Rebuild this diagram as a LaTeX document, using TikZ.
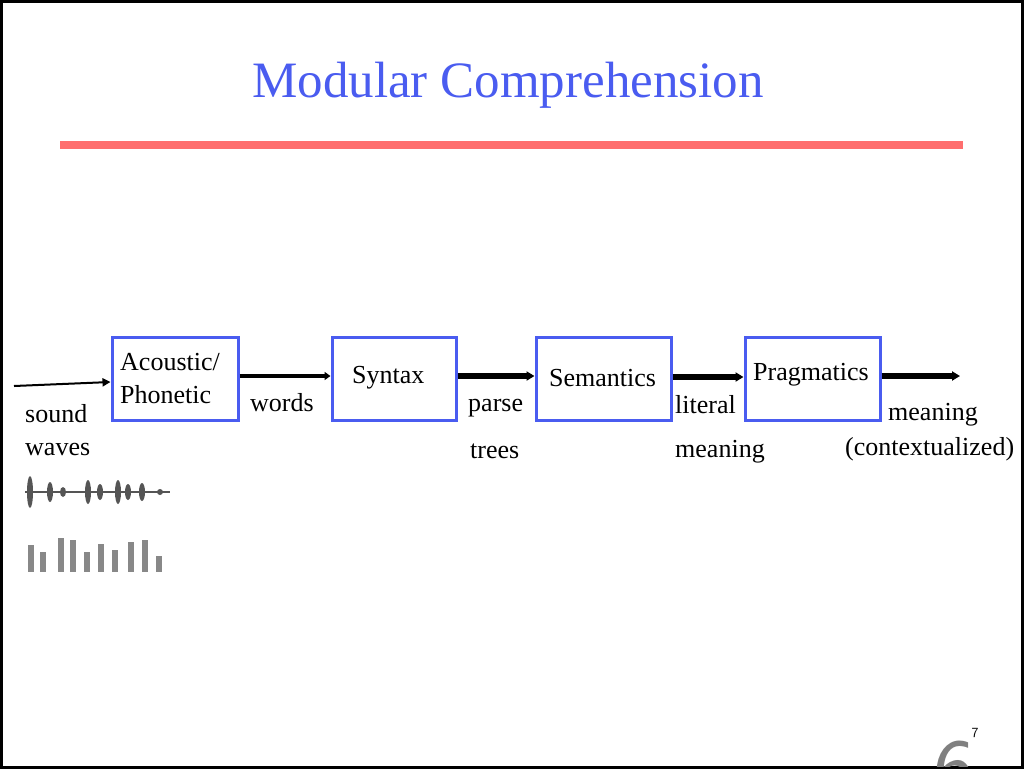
\documentclass[tikz,border=0pt]{standalone}
\usepackage{fontspec}
\setmainfont{Liberation Serif}
\definecolor{boxblue}{HTML}{4A5CF0}
\definecolor{rulered}{HTML}{FF6E6E}
\definecolor{wavegray}{HTML}{555555}
\tikzset{
  module/.style={draw=boxblue, line width=3pt, minimum width=126pt, minimum height=83pt, inner sep=0pt},
  lbl/.style={anchor=west, inner sep=0pt, font=\fontsize{26}{33}\selectfont},
  flow/.style={line width=6pt, -{Triangle[length=8pt,width=9pt]}},
}
\usetikzlibrary{arrows.meta}
\begin{document}
\begin{tikzpicture}[x=1pt, y=-1pt]
	\useasboundingbox (0,0) rectangle (1024,769);
	\fill[white] (0,0) rectangle (1024,769);
	\draw[line width=3pt] (1.5,1.5) rectangle (1022.5,767.5);
	% title
	\node[text=boxblue, font=\fontsize{51}{53}\selectfont] (title) at (508,85) {Modular Comprehension};
	\draw[rulered, line width=8pt] (60,145) -- (963,145);
	% modules
	\node[module] (acoustic) at (175,378.5) {};
	\node[module, minimum width=124pt] (syntax) at (394,378.5) {};
	\node[module, minimum width=135pt] (semantics) at (603.5,378.5) {};
	\node[module, minimum width=135pt] (pragmatics) at (812.5,378.5) {};
	\node[lbl, align=left] at (120,379) {Acoustic/\\Phonetic};
	\node[lbl] at (352,378) {Syntax};
	\node[lbl] at (549,378) {Semantics};
	\node[lbl] at (753,375) {Pragmatics};
	% connectors
	\coordinate (src) at (14,386);
	\coordinate (out) at (960,376);
	\draw[line width=2pt, -{Triangle[length=8pt,width=8pt]}] (src) -- (acoustic.west |- 0,382);
	\draw[line width=4pt, -{Triangle[length=6pt,width=8pt]}] (acoustic.east |- 0,376) -- (syntax.west |- 0,376);
	\draw[flow] (syntax.east |- 0,376) -- (semantics.west |- 0,376);
	\draw[flow] (semantics.east |- 0,377) -- (pragmatics.west |- 0,377);
	\draw[flow] (pragmatics.east |- 0,376) -- (out);
	% labels
	\node[lbl] (sound) at (25,414) {sound};
	\node[lbl] (waves) at (25,449) {waves};
	\node[lbl] (words) at (250,403) {words};
	\node[lbl] (parse) at (468,408) {parse};
	\node[lbl] (trees) at (470,451) {trees};
	\node[lbl] (literal) at (675,405) {literal};
	\node[lbl] (litmeaning) at (675,452) {meaning};
	\node[lbl] (meaning) at (888,415) {meaning};
	\node[lbl] (context) at (845,449) {(contextualized)};
	% waveform and spectrogram
	\draw[wavegray, line width=2pt] (25,492) -- (170,492);
	\foreach \x/\h in {30/16, 50/10, 63/5, 88/12, 100/8, 118/12, 128/8, 142/9, 160/3}{
		\fill[wavegray] (\x,492) ellipse[x radius=3pt, y radius=\h pt];
	}
	\foreach \x/\t in {28/545, 40/552, 58/538, 70/540, 84/552, 98/544, 112/550, 128/542, 142/540, 156/556}{
		\fill[wavegray!70] (\x,\t) rectangle (\x+6,572);
	}
	% page number
	\node[font=\sffamily\fontsize{14}{14}\selectfont] (pagenum) at (975,733) {7};
	\begin{scope}
		\clip (0,0) rectangle (1024,766);
		\node[text=gray, font=\sffamily\fontsize{90}{90}\selectfont] (logo) at (955,772) {6};
	\end{scope}
\end{tikzpicture}
\end{document}
